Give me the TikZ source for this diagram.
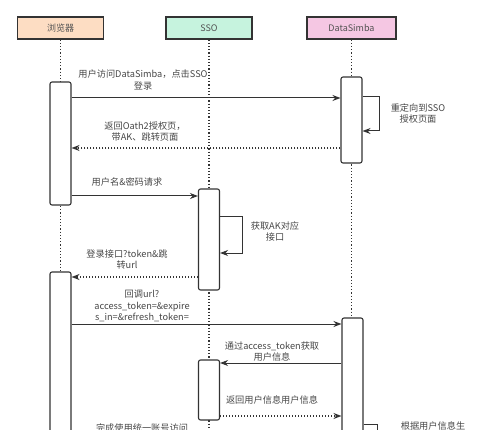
\documentclass[tikz,border=0pt]{standalone}
\usepackage{fontspec}
\setmainfont{Noto Sans CJK SC}
\usetikzlibrary{arrows.meta}
\definecolor{brfill}{HTML}{FDDDC3}
\definecolor{ssofill}{HTML}{C6F3DE}
\definecolor{dsfill}{HTML}{F5C7E3}
\definecolor{ink}{HTML}{333333}
\tikzset{
  head/.style={draw=ink,line width=1.3pt,rectangle,minimum height=22pt,font=\fontsize{9}{11}\selectfont,text=ink!85},
  act/.style={draw=ink,line width=1.1pt,fill=white,rounded corners=2pt,minimum width=21pt,inner sep=0pt},
  life/.style={draw=ink,line width=1.2pt,dash pattern=on 1.2pt off 2pt},
  msg/.style={draw=ink,line width=1pt,-{Stealth[length=8pt,width=6pt]}},
  ret/.style={msg,line width=1.2pt,dash pattern=on 1.2pt off 1.8pt},
  lbl/.style={font=\fontsize{9.2}{11.5}\selectfont,text=ink!90,align=center,inner sep=0pt}
}
\begin{document}
\begin{tikzpicture}[x=1pt,y=-1pt]
  \useasboundingbox (0,0) rectangle (500,430);
  \fill[white] (0,0) rectangle (500,430);
  \clip (0,0) rectangle (500,430);
  % participants
  \node[head,fill=brfill,minimum width=86pt] (br) at (60.5,28) {浏览器};
  \node[head,fill=ssofill,minimum width=86pt] (sso) at (209,28) {SSO};
  \node[head,fill=dsfill,minimum width=89pt] (ds) at (351.5,28) {DataSimba};
  \coordinate (brend) at (60.5,445);
  \coordinate (ssoend) at (209,445);
  \coordinate (dsend) at (351.5,445);
  \draw[life] (br.south) -- (brend);
  \draw[life] (sso.south) -- (ssoend);
  \draw[life] (ds.south) -- (dsend);
  % activations
  \node[act,minimum height=123pt] (b1) at (60.5,143.5) {};
  \node[act,minimum height=180pt] (b2) at (60.5,362) {};
  \node[act,minimum height=101pt] (s1) at (209,239.5) {};
  \node[act,minimum height=60pt] (s2) at (209,390) {};
  \node[act,minimum height=86pt] (d1) at (351.5,120) {};
  \node[act,minimum height=134pt] (d2) at (352.5,385) {};
  % messages
  \draw[msg] (b1.east |- 0,98) -- (d1.west |- 0,98);
  \node[lbl] (t1) at (143,80) {用户访问DataSimba，点击SSO\\登录};
  \draw[msg] (d1.east |- 0,97) -- ++(17,0) |- (d1.east |- 0,131);
  \node[lbl] (t2) at (418,113.5) {重定向到SSO\\授权页面};
  \draw[ret] (d1.west |- 0,148) -- (b1.east |- 0,148);
  \node[lbl] (t3) at (145,131.5) {返回Oath2授权页，\\带AK、跳转页面};
  \draw[msg] (b1.east |- 0,196) -- (s1.west |- 0,196);
  \node[lbl] (t4) at (127,182) {用户名\&密码请求};
  \draw[msg] (s1.east |- 0,217) -- ++(22,0) |- (s1.east |- 0,253);
  \node[lbl] (t5) at (275,231.5) {获取AK对应\\接口};
  \draw[ret] (s1.west |- 0,277) -- (b2.east |- 0,277);
  \node[lbl] (t6) at (127,259.5) {登录接口?token\&跳\\转url};
  \draw[msg] (b2.east |- 0,324) -- (d2.west |- 0,324);
  \node[lbl] (t7) at (142,306) {回调url?\\access\_token=\&expire\\s\_in=\&refresh\_token=};
  \draw[msg] (d2.west |- 0,363) -- (s2.east |- 0,363);
  \node[lbl] (t8) at (272,351.5) {通过access\_token获取\\用户信息};
  \draw[ret] (s2.east |- 0,416) -- (d2.west |- 0,416);
  \node[lbl] (t9) at (272,400) {返回用户信息用户信息};
  \coordinate (dsloop) at (377,445);
  \draw[draw=ink,line width=1pt] (d2.east |- 0,424) -| (dsloop);
  \node[lbl,anchor=north] (t10) at (433,421) {根据用户信息生};
  \node[lbl,anchor=north] (t11) at (142,423.5) {完成使用统一账号访问};
\end{tikzpicture}
\end{document}
